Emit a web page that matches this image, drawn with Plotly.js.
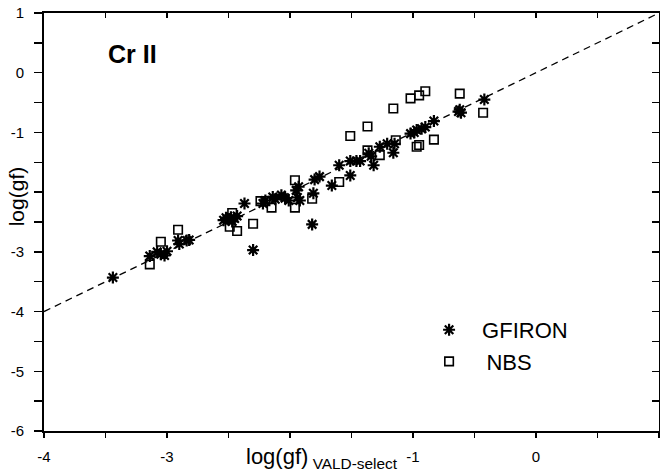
<!DOCTYPE html>
<html><head><meta charset="utf-8">
<script src="https://cdn.plot.ly/plotly-3.0.1.min.js"></script>
<style>html,body{margin:0;padding:0;background:#fff;overflow:hidden}</style>
</head><body><div id="chart" style="width:660px;height:472px"></div>
<script>
// GFIRON (asterisks)
const gfironX = [-3.44,-3.14,-3.08,-3.05,-3.02,-3.00,-2.91,-2.90,-2.84,-2.82,-2.54,-2.52,-2.50,-2.48,-2.47,-2.45,-2.43,-2.37,-2.30,-2.22,-2.20,-2.14,-2.12,-2.07,-2.04,-2.01,-1.95,-1.94,-1.92,-1.93,-1.82,-1.81,-1.80,-1.76,-1.66,-1.60,-1.51,-1.51,-1.46,-1.43,-1.36,-1.34,-1.32,-1.27,-1.21,-1.16,-1.15,-1.02,-0.99,-0.97,-0.93,-0.90,-0.83,-0.63,-0.62,-0.61,-0.42];
const gfironY = [-3.43,-3.07,-3.00,-3.04,-3.06,-2.99,-2.81,-2.87,-2.81,-2.80,-2.47,-2.43,-2.46,-2.42,-2.49,-2.44,-2.40,-2.19,-2.97,-2.19,-2.14,-2.08,-2.12,-2.05,-2.10,-2.14,-1.97,-2.09,-2.14,-1.91,-2.54,-2.02,-1.79,-1.74,-1.89,-1.55,-1.72,-1.48,-1.48,-1.48,-1.35,-1.40,-1.55,-1.24,-1.19,-1.34,-1.19,-1.02,-1.00,-0.96,-0.94,-0.91,-0.81,-0.65,-0.62,-0.67,-0.45];
// NBS (open squares)
const nbsX = [-3.14,-3.05,-2.91,-2.47,-2.49,-2.43,-2.30,-2.24,-2.20,-2.15,-1.96,-1.96,-1.82,-1.60,-1.51,-1.37,-1.37,-1.27,-1.14,-1.16,-1.02,-0.95,-0.90,-0.97,-0.95,-0.83,-0.62,-0.43];
const nbsY = [-3.21,-2.83,-2.63,-2.35,-2.58,-2.65,-2.53,-2.15,-2.15,-2.26,-2.26,-1.80,-2.11,-1.83,-1.06,-0.90,-1.30,-1.38,-1.13,-0.60,-0.43,-0.38,-0.31,-1.24,-1.21,-1.12,-0.35,-0.67];
// 1:1 reference line
const lineX = [-4, 1];
const lineY = [-4, 1];
// ticks
const xTickVals = [-4,-3.5,-3,-2.5,-2,-1.5,-1,-0.5,0,0.5,1];
const xTickText = ['-4',' ','-3',' ',' ',' ','-1',' ','0',' ','1'];
const yTickVals = [-6,-5.5,-5,-4.5,-4,-3.5,-3,-2.5,-2,-1.5,-1,-0.5,0,0.5,1];
const yTickText = ['-6',' ','-5',' ','-4',' ','-3',' ',' ',' ','-1',' ','0',' ','1'];

const FONT = 'Liberation Sans, Arial, Helvetica, sans-serif';
const traces = [
  {x: lineX, y: lineY, xaxis: 'x2', yaxis: 'y2', mode: 'lines', showlegend: false,
   line: {color: '#000', width: 1.3, dash: '7px,5px'}, hoverinfo: 'skip'},
  {x: gfironX, y: gfironY, name: 'GFIRON', mode: 'markers', legendgroup: 'a',
   marker: {symbol: 'asterisk-open', size: 10, color: '#000', line: {color: '#000', width: 2.2}}},
  {x: nbsX, y: nbsY, name: '\u2009NBS', mode: 'markers', legendgroup: 'b',
   marker: {symbol: 'square-open', size: 8.5, color: '#000', line: {color: '#000', width: 1.6}}}
];
const axBase = {showgrid: false, zeroline: false, showline: true, linecolor: '#000', linewidth: 2,
  tickcolor: '#000', tickwidth: 1.5, tickfont: {family: FONT, size: 15, color: '#000'}};
const layout = {
  width: 660, height: 472,
  margin: {l: 44, r: 1, t: 13, b: 41, pad: 0},
  paper_bgcolor: '#fff', plot_bgcolor: '#fff',
  font: {family: FONT, color: '#000'},
  showlegend: true,
  legend: {x: 0.605, y: 0.292, xanchor: 'left', yanchor: 'top', font: {family: FONT, size: 22, color: '#000'},
    itemwidth: 56, traceorder: 'grouped', tracegroupgap: 0, bgcolor: 'rgba(0,0,0,0)', borderwidth: 0},
  xaxis: Object.assign({}, axBase, {range: [-4, 1], tickmode: 'array', tickvals: xTickVals, ticktext: xTickText,
    ticks: 'outside', ticklen: 5, ticklabelstandoff: 6}),
  yaxis: Object.assign({}, axBase, {range: [-6, 1], tickmode: 'array', tickvals: yTickVals, ticktext: yTickText,
    ticks: 'outside', ticklen: 8, ticklabelstandoff: 7}),
  xaxis2: Object.assign({}, axBase, {overlaying: 'x', side: 'top', range: [-4, 1], tickmode: 'array', tickvals: xTickVals,
    ticks: 'inside', ticklen: 5, showticklabels: false}),
  yaxis2: Object.assign({}, axBase, {overlaying: 'y', side: 'right', range: [-6, 1], tickmode: 'array', tickvals: yTickVals,
    ticks: 'inside', ticklen: 7, showticklabels: false}),
  annotations: [
    {text: '<b>Cr II</b>', xref: 'paper', yref: 'paper', x: (106-44)/615, y: (430.7-54)/418, xanchor: 'left', yanchor: 'middle',
     showarrow: false, font: {family: FONT, size: 25, color: '#000'}},
    {text: 'log(gf)<sub> VALD-select</sub>', xref: 'paper', yref: 'paper', x: (244-44)/615, y: (430.7-442)/418,
     xanchor: 'left', yanchor: 'top', showarrow: false, font: {family: FONT, size: 22, color: '#000'}},
    {text: 'log(gf)', xref: 'paper', yref: 'paper', x: (16-44)/615, y: (430.7-196)/418, xanchor: 'center', yanchor: 'middle',
     textangle: -90, showarrow: false, font: {family: FONT, size: 21, color: '#000'}}
  ]
};
Plotly.newPlot('chart', traces, layout, {displayModeBar: false, staticPlot: true});
</script></body></html>
